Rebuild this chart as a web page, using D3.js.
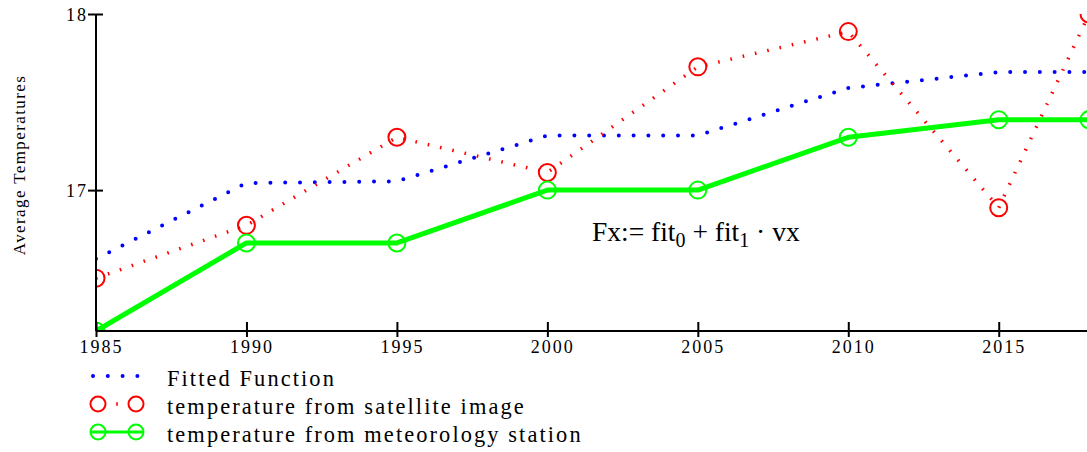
<!DOCTYPE html>
<html>
<head>
<meta charset="utf-8">
<script src="https://cdn.jsdelivr.net/npm/d3@7"></script>
<style>
  html, body { margin: 0; padding: 0; background: #fff; }
  svg text { font-family: "Liberation Serif", "Times New Roman", serif; fill: #000; }
  .axis path, .axis line { stroke: #000; stroke-width: 2; }
  .axis text { font-size: 18px; letter-spacing: 2px; }
</style>
</head>
<body>
<svg id="chart" width="1087" height="452"></svg>
<script>
// years on the x axis
const years = [1985, 1990, 1995, 2000, 2005, 2010, 2015, 2018];
// fitted function (blue dotted)
const fitted = [16.61, 17.04, 17.05, 17.31, 17.31, 17.58, 17.67, 17.67];
// temperature from satellite image (red)
const satellite = [16.5, 16.8, 17.3, 17.1, 17.7, 17.9, 16.9, 18.0];
// temperature from meteorology station (green)
const station = [16.2, 16.7, 16.7, 17.0, 17.0, 17.3, 17.4, 17.4];

const xTicks = [1985, 1990, 1995, 2000, 2005, 2010, 2015];
const yTicks = [17, 18];
const legendLabels = ["Fitted Function", "temperature from satellite image",
  "temperature from meteorology station"];

const BLUE = "#0000ff", RED = "#ff0000", GREEN = "#00ff00";

const svg = d3.select("#chart");
const m = { left: 96, top: 14, bottom: 331 };
const x = d3.scaleLinear([1985, 2018], [m.left, 1089]);
const y = d3.scaleLinear([16.2, 18], [m.bottom, m.top]);

svg.append("clipPath").attr("id", "plot")
  .append("rect").attr("x", m.left).attr("y", m.top)
  .attr("width", 1100 - m.left).attr("height", m.bottom - m.top);

const plot = svg.append("g").attr("clip-path", "url(#plot)");
const line = d3.line().x((_, i) => x(years[i])).y(v => y(v));

// fitted function: round dots
plot.append("path").attr("d", line(fitted))
  .attr("fill", "none").attr("stroke", BLUE).attr("stroke-width", 4)
  .attr("stroke-linecap", "round").attr("stroke-dasharray", "0 14.8");

// satellite: short dashes + circles
plot.append("path").attr("d", line(satellite))
  .attr("fill", "none").attr("stroke", RED).attr("stroke-width", 3.5)
  .attr("stroke-dasharray", "1.6 11");
plot.selectAll(".sat").data(satellite).join("circle")
  .attr("cx", (_, i) => x(years[i])).attr("cy", v => y(v)).attr("r", 8.5)
  .attr("fill", "none").attr("stroke", RED).attr("stroke-width", 2);

// station: thick solid + circles
plot.append("path").attr("d", line(station))
  .attr("fill", "none").attr("stroke", GREEN).attr("stroke-width", 5)
  .attr("stroke-linejoin", "round");
plot.selectAll(".sta").data(station).join("circle")
  .attr("cx", (_, i) => x(years[i])).attr("cy", v => y(v)).attr("r", 8.5)
  .attr("fill", "none").attr("stroke", GREEN).attr("stroke-width", 2);

// axes, ticks crossing the axis line
const gx = svg.append("g").attr("class", "axis")
  .attr("transform", `translate(0,${m.bottom})`)
  .call(d3.axisBottom(x).tickValues(xTicks).tickFormat(d3.format("d"))
    .tickSizeOuter(0));
gx.attr("font-family", null).attr("font-size", null);
gx.select(".domain").attr("d", `M${m.left},0H1087`);
gx.selectAll(".tick line").attr("y1", -9).attr("y2", 6);
gx.selectAll(".tick text").attr("y", 0).attr("dy", 22).attr("dx", 5);

const gy = svg.append("g").attr("class", "axis")
  .attr("transform", `translate(${m.left},0)`)
  .call(d3.axisLeft(y).tickValues(yTicks).tickFormat(d3.format("d"))
    .tickSizeOuter(0));
gy.attr("font-family", null).attr("font-size", null);
gy.select(".domain").attr("d", `M0,${m.top}V${m.bottom}`);
gy.selectAll(".tick line").attr("x1", -8).attr("x2", 7);
gy.selectAll(".tick text").attr("x", -8).attr("dy", "0.35em");

svg.append("text")
  .attr("transform", `translate(25,165) rotate(-90)`)
  .attr("text-anchor", "middle").attr("font-size", 17)
  .attr("letter-spacing", 1.4).text("Average Temperatures");

// formula
const f = svg.append("text").attr("x", 592).attr("y", 241)
  .attr("font-size", 27.5);
f.append("tspan").text("Fx:= fit");
f.append("tspan").attr("font-size", 20).attr("dy", 6).text("0");
f.append("tspan").attr("dy", -6).text(" + fit");
f.append("tspan").attr("font-size", 20).attr("dy", 6).text("1");
f.append("tspan").attr("dy", -6).text(" \u00b7 vx");

// legend
const rowY = [376, 404, 432];
const lg = svg.append("g").attr("font-size", 22.4).attr("letter-spacing", 2.1);
lg.selectAll("text").data(legendLabels).join("text")
  .attr("x", 167).attr("y", (_, i) => rowY[i] + 10).text(d => d);

lg.append("path").attr("d", `M93,${rowY[0]}H138`)
  .attr("stroke", BLUE).attr("stroke-width", 4).attr("stroke-linecap", "round")
  .attr("stroke-dasharray", "0 14.8");

lg.append("path").attr("d", `M98,${rowY[1]}H136`)
  .attr("stroke", RED).attr("stroke-width", 3.5)
  .attr("stroke-dasharray", "0 18.2 1.6 30");
lg.selectAll(".lr").data([98, 136]).join("circle")
  .attr("cx", d => d).attr("cy", rowY[1]).attr("r", 7.5)
  .attr("fill", "none").attr("stroke", RED).attr("stroke-width", 2);

lg.append("path").attr("d", `M90,${rowY[2]}H144`)
  .attr("stroke", GREEN).attr("stroke-width", 3);
lg.selectAll(".lgc").data([98, 136]).join("circle")
  .attr("cx", d => d).attr("cy", rowY[2]).attr("r", 7.5)
  .attr("fill", "none").attr("stroke", GREEN).attr("stroke-width", 2);
</script>
</body>
</html>
